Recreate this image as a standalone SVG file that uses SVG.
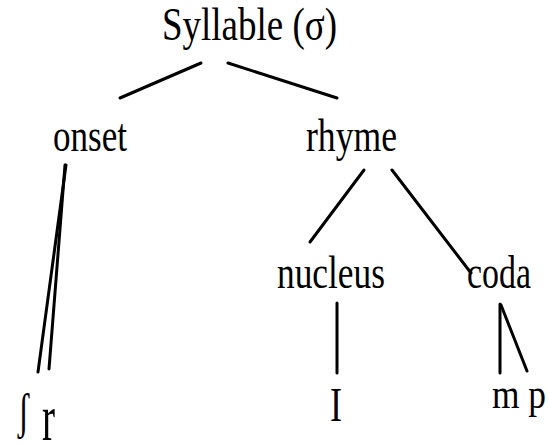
<svg xmlns="http://www.w3.org/2000/svg" width="549" height="446" viewBox="0 0 549 446">
<style>
  text { font-family: "Liberation Serif", "Times New Roman", serif; font-size: 46px; fill: #000; }
  .edge { stroke: #000; stroke-width: 3; stroke-linecap: round; fill: none; }
</style>
<rect width="549" height="446" fill="#fff"/>
<g id="connectors">
  <line class="edge" x1="201" y1="63" x2="120" y2="98"/>
  <line class="edge" x1="228" y1="63" x2="337" y2="98"/>
  <line class="edge" x1="66" y1="165" x2="38" y2="372"/>
  <line class="edge" x1="65" y1="165" x2="49" y2="369"/>
  <line class="edge" x1="364" y1="170" x2="310" y2="242"/>
  <line class="edge" x1="392" y1="170" x2="471" y2="273"/>
  <line class="edge" x1="337" y1="303" x2="337" y2="373"/>
  <line class="edge" x1="500" y1="304" x2="500" y2="373"/>
  <line class="edge" x1="501" y1="305" x2="527" y2="371"/>
</g>
<g id="syllable"><text x="162" y="40" textLength="175" lengthAdjust="spacingAndGlyphs">Syllable (σ)</text></g>
<g id="onset"><text x="53" y="151" textLength="74" lengthAdjust="spacingAndGlyphs">onset</text></g>
<g id="rhyme"><text x="306" y="151" textLength="91" lengthAdjust="spacingAndGlyphs">rhyme</text></g>
<g id="nucleus"><text x="277" y="288" textLength="108" lengthAdjust="spacingAndGlyphs">nucleus</text></g>
<g id="coda"><text x="467" y="288" textLength="64" lengthAdjust="spacingAndGlyphs">coda</text></g>
<g id="onset-segments">
  <text x="18" y="428" style="font-size:50px" textLength="11" lengthAdjust="spacingAndGlyphs">ʃ</text>
  <text x="42" y="440" style="font-size:66px;font-weight:300" textLength="13" lengthAdjust="spacingAndGlyphs">r</text>
</g>
<g id="nucleus-segment"><text x="330" y="421" style="font-size:48px" textLength="12" lengthAdjust="spacingAndGlyphs">I</text></g>
<g id="coda-segments"><text x="492" y="408" style="font-size:42px" textLength="54" lengthAdjust="spacingAndGlyphs">m p</text></g>
</svg>
